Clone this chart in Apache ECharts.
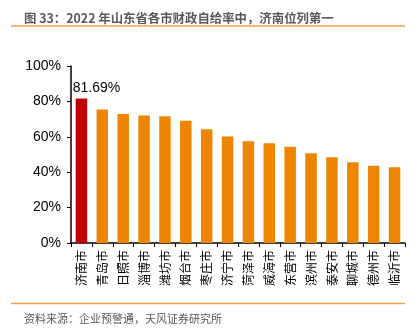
<!DOCTYPE html>
<html><head><meta charset="utf-8">
<script src="https://cdn.jsdelivr.net/npm/echarts@6/dist/echarts.min.js"></script>
<style>html,body{margin:0;padding:0;background:#fff}#c{width:420px;height:335px}</style>
</head><body><div id="c"></div>
<script>
const categories = ['济南市','青岛市','日照市','淄博市','潍坊市','烟台市','枣庄市','济宁市','菏泽市','威海市','东营市','滨州市','泰安市','聊城市','德州市','临沂市'];
const values = [81.69,75.4,72.9,72.1,71.6,69.1,64.2,60.1,57.5,56.3,54.4,50.7,48.4,45.6,43.7,42.8];
const yTicks = [0,20,40,60,80,100];
const titleText = '图 33：2022 年山东省各市财政自给率中，济南位列第一';
const sourceText = '资料来源：企业预警通，天风证券研究所';

const chart = echarts.init(document.getElementById('c'));
chart.setOption({
  animation: false,
  title: [
    {text: titleText, left: 19, top: 7, textStyle: {fontFamily: 'Noto Sans CJK SC', fontSize: 12.4, fontWeight: 'bold', color: '#595959'}},
    {text: sourceText, left: 19, top: 308, textStyle: {fontFamily: 'Noto Sans CJK SC', fontSize: 11, fontWeight: 'normal', color: '#595959'}}
  ],
  graphic: [
    {type: 'line', shape: {x1: 11, y1: 26, x2: 405, y2: 26}, style: {stroke: '#F4A04A', lineWidth: 1.5}},
    {type: 'line', shape: {x1: 11, y1: 303.5, x2: 405, y2: 303.5}, style: {stroke: '#F4A04A', lineWidth: 1.5}}
  ],
  grid: {left: 71, right: 15, top: 66, bottom: 92},
  xAxis: {
    type: 'category', data: categories,
    axisLine: {lineStyle: {color: '#000', width: 1.5}},
    axisTick: {show: true, length: 4, lineStyle: {color: '#000'}},
    axisLabel: {interval: 0, rotate: 90, fontFamily: 'Noto Sans CJK SC', fontSize: 12, color: '#000', margin: 7}
  },
  yAxis: {
    type: 'value', min: yTicks[0], max: yTicks[yTicks.length-1], interval: 20,
    splitLine: {show: false},
    axisLine: {show: true, lineStyle: {color: '#000', width: 1.5}},
    axisTick: {show: true, length: 4, lineStyle: {color: '#000'}},
    axisLabel: {formatter: '{value}%', fontFamily: 'Liberation Sans', fontSize: 14, color: '#000', margin: 10}
  },
  series: [{
    type: 'bar', barWidth: '55%',
    data: values.map((v, i) => ({
      value: v,
      itemStyle: {color: i === 0 ? '#C00000' : '#EE8500'},
      label: i === 0 ? {show: true, position: 'top', offset: [15, 0], distance: 3, formatter: v.toFixed(2) + '%', fontFamily: 'Liberation Sans', fontSize: 14, color: '#000'} : {show: false}
    }))
  }]
});
</script></body></html>
